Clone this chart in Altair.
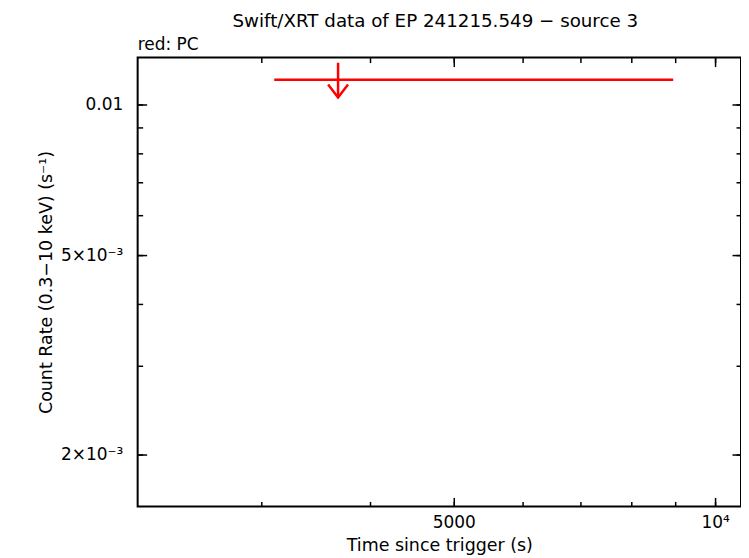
import altair as alt
import pandas as pd

# ---- data ----
t_start = [3106]
t_stop = [8949]
t_mid = [3679]
rate_ul = [0.01121]
arrow_top = [0.01212]
arrow_tip = [0.01033]

x_domain = [2162, 10712]
y_domain = [0.001573, 0.01241]
x_minor = [3000, 4000, 5000, 6000, 7000, 8000, 9000, 10000]
x_major = [5000, 10000]
y_minor = [0.002, 0.003, 0.004, 0.005, 0.006, 0.007, 0.008, 0.009, 0.01]
y_major = [0.002, 0.005, 0.01]

title_text = ["Swift/XRT data of EP 241215.549 − source 3"]
legend_text = ["red: PC"]

df = pd.DataFrame({
    "t_start": t_start, "t_stop": t_stop, "t_mid": t_mid,
    "rate_ul": rate_ul, "arrow_top": arrow_top, "arrow_tip": arrow_tip,
    "title": title_text, "legend": legend_text,
})

W, H = 605, 450
FONT = "DejaVu Sans"
FS = 17
FT = 17.5
RED = "#ff0000"

xs = alt.Scale(type="log", domain=x_domain, nice=False)
ys = alt.Scale(type="log", domain=y_domain, nice=False)


def tick_axis(orient, offset, values, size):
    return alt.Axis(orient=orient, offset=offset, values=values, tickSize=size,
                    labels=False, domain=False, grid=False, title=None,
                    tickColor="black", tickWidth=1.5)


label_x_axis = alt.Axis(orient="bottom", values=x_major, ticks=False, domain=False,
                        grid=False, labelFont=FONT, labelFontSize=FS, labelColor="black",
                        labelPadding=8,
                        labelExpr="datum.value == 10000 ? '10⁴' : format(datum.value, 'd')",
                        title="Time since trigger (s)", titleFont=FONT, titleFontSize=FT,
                        titleFontWeight="normal", titleColor="black",
                        titleX=W / 2, titleY=44, titleBaseline="alphabetic",
                        titleAlign="center")

label_y_axis = alt.Axis(orient="left", values=y_major, ticks=False, domain=False,
                        grid=False, labelFont=FONT, labelFontSize=FS, labelColor="black",
                        labelPadding=15,
                        labelExpr="datum.value == 0.01 ? '0.01' : (datum.value == 0.005 ? '5×10⁻³' : '2×10⁻³')",
                        title="Count Rate (0.3−10 keV) (s⁻¹)", titleFont=FONT, titleFontSize=FT,
                        titleFontWeight="normal", titleColor="black",
                        titleX=-91, titleY=H / 2, titleBaseline="middle", titleAlign="center",
                        titleAngle=270)

base = alt.Chart(df)

err = base.mark_rule(color=RED, strokeWidth=2.5).encode(
    x=alt.X("t_start:Q", scale=xs, axis=label_x_axis),
    x2="t_stop:Q",
    y=alt.Y("rate_ul:Q", scale=ys, axis=label_y_axis),
)

shaft = base.mark_rule(color=RED, strokeWidth=2.5).encode(
    x=alt.X("t_mid:Q", scale=xs, axis=tick_axis("top", -H, x_minor, 5)),
    y=alt.Y("arrow_top:Q", scale=ys, axis=tick_axis("right", -W, y_minor, 5)),
    y2="arrow_tip:Q",
)

head = base.mark_point(shape="M-1,-1.3L0,0L1,-1.3", size=400, filled=False,
                       color=RED, strokeWidth=2.5, opacity=1).encode(
    x=alt.X("t_mid:Q", scale=xs, axis=tick_axis("bottom", -H, x_minor, 5)),
    y=alt.Y("arrow_tip:Q", scale=ys, axis=tick_axis("left", -W, y_minor, 5)),
)

dummy1 = base.mark_point(opacity=0).encode(
    x=alt.X("t_mid:Q", scale=xs, axis=tick_axis("top", -H, x_major, 9)),
    y=alt.Y("arrow_tip:Q", scale=ys, axis=tick_axis("right", -W, y_major, 9)),
)

dummy2 = base.mark_point(opacity=0).encode(
    x=alt.X("t_mid:Q", scale=xs, axis=tick_axis("bottom", -H, x_major, 9)),
    y=alt.Y("arrow_tip:Q", scale=ys, axis=tick_axis("left", -W, y_major, 9)),
)

title = base.mark_text(font=FONT, fontSize=18.3, color="black",
                       align="center", baseline="alphabetic").encode(
    text="title:N", x=alt.value(W / 2 - 4), y=alt.value(-31)
)

label = base.mark_text(font=FONT, fontSize=FS, color="black",
                       align="left", baseline="alphabetic").encode(
    text="legend:N", x=alt.value(0), y=alt.value(-8)
)

chart = alt.layer(err, shaft, head, dummy1, dummy2, title, label).resolve_axis(
    x="independent", y="independent"
).properties(
    width=W, height=H,
    autosize=alt.AutoSizeParams(type="none"),
    padding={"left": 130, "top": 49, "right": 0, "bottom": 50},
    background="white",
).configure_view(
    stroke="black", strokeWidth=2
)

chart.save("out.html", embed_options={"renderer": "svg", "actions": False})
